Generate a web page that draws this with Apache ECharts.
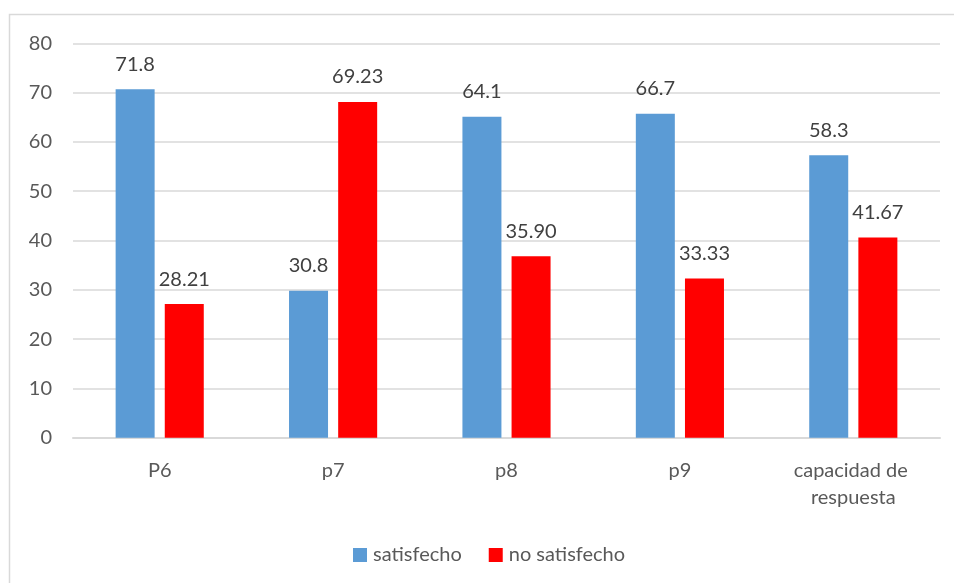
<!DOCTYPE html>
<html>
<head>
<meta charset="utf-8">
<script src="https://cdn.jsdelivr.net/npm/echarts@6/dist/echarts.min.js"></script>
<style>
  html, body { margin: 0; padding: 0; background: #fff; }
  #main { width: 954px; height: 583px; }
</style>
</head>
<body>
<div id="main"></div>
<script>
var categories = ['P6', 'p7', 'p8', 'p9', 'capacidad de respuesta'];
var satisfecho = [70.7, 29.8, 65.1, 65.7, 57.3];
var noSatisfecho = [27.1, 68.1, 36.8, 32.3, 40.6];
// the printed labels do not quite match the bar heights, so keep them apart
var satisfechoLabels = ['71.8', '30.8', '64.1', '66.7', '58.3'];
var noSatisfechoLabels = ['28.21', '69.23', '35.90', '33.33', '41.67'];
var yTicks = [0, 80, 10];

var font = 'Lato';

var myChart = echarts.init(document.getElementById('main'));

function barLabel(texts) {
  return {
    show: true,
    position: 'top',
    distance: 13,
    fontFamily: font,
    fontSize: 20,
    lineHeight: 24,
    color: '#404040',
    formatter: function (p) {
      return texts[p.dataIndex];
    }
  };
}

var option = {
  animation: false,
  backgroundColor: '#fff',
  graphic: [
    {
      type: 'rect',
      shape: { x: 9.5, y: 14.5, width: 980, height: 620 },
      style: { fill: 'none', stroke: '#d9d9d9', lineWidth: 1.5 },
      silent: true
    }
  ],
  grid: {
    left: 73,
    right: 14,
    top: 43.3,
    bottom: 145.3
  },
  legend: {
    left: 348,
    top: 540,
    itemWidth: 14,
    itemHeight: 14,
    itemGap: 27,
    icon: 'rect',
    textStyle: { fontFamily: font, fontSize: 20, color: '#595959', padding: [0, 0, 0, 1] },
    data: ['satisfecho', 'no satisfecho']
  },
  xAxis: {
    type: 'category',
    data: categories,
    axisTick: { show: false },
    axisLine: { lineStyle: { color: '#d9d9d9', width: 2 } },
    axisLabel: {
      interval: 0,
      margin: 19,
      fontFamily: font,
      fontSize: 20,
      lineHeight: 27,
      color: '#595959',
      width: 160,
      overflow: 'break'
    }
  },
  yAxis: {
    type: 'value',
    min: yTicks[0],
    max: yTicks[1],
    interval: yTicks[2],
    axisLine: { show: false },
    axisTick: { show: false },
    splitLine: { lineStyle: { color: '#d9d9d9', width: 1.5 } },
    axisLabel: {
      margin: 21,
      fontFamily: font,
      fontSize: 20,
      color: '#595959'
    }
  },
  series: [
    {
      name: 'satisfecho',
      type: 'bar',
      barWidth: 39,
      barGap: '26%',
      itemStyle: { color: '#5b9bd5' },
      label: barLabel(satisfechoLabels),
      data: satisfecho
    },
    {
      name: 'no satisfecho',
      type: 'bar',
      barWidth: 39,
      barGap: '26%',
      itemStyle: { color: '#ff0000' },
      label: barLabel(noSatisfechoLabels),
      data: noSatisfecho
    }
  ]
};

myChart.setOption(option);
</script>
</body>
</html>
